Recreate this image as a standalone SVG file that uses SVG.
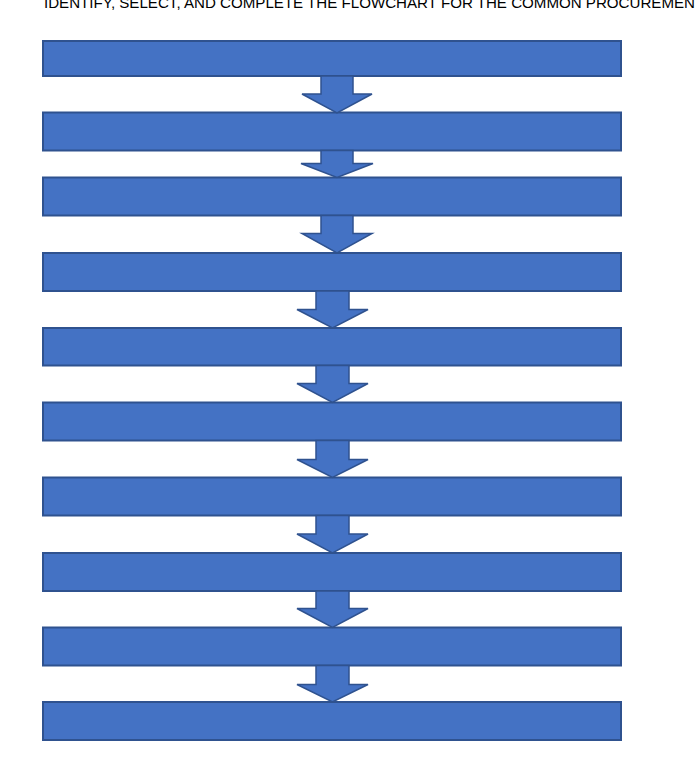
<svg xmlns="http://www.w3.org/2000/svg" width="696" height="775" viewBox="0 0 696 775">
<style>
.box{fill:#4472C4;stroke:#2F528F;stroke-width:2}
.arr{fill:#4472C4;stroke:#2F528F;stroke-width:1.5;stroke-linejoin:miter}
.title{font-family:"Liberation Sans",Arial,sans-serif;font-size:14.5px;fill:#000}
</style>
<rect width="696" height="775" fill="#fff"/>
<text class="title" x="44" y="8" textLength="651" lengthAdjust="spacingAndGlyphs">IDENTIFY, SELECT, AND COMPLETE THE FLOWCHART FOR THE COMMON PROCUREMEN</text>
<g id="step1"><rect class="box" x="43" y="41" width="578" height="35"/></g>
<g id="step2"><rect class="box" x="43" y="112.5" width="578" height="38"/></g>
<g id="step3"><rect class="box" x="43" y="177.5" width="578" height="38"/></g>
<g id="step4"><rect class="box" x="43" y="253" width="578" height="38"/></g>
<g id="step5"><rect class="box" x="43" y="328" width="578" height="37.5"/></g>
<g id="step6"><rect class="box" x="43" y="402.5" width="578" height="38"/></g>
<g id="step7"><rect class="box" x="43" y="477.5" width="578" height="38"/></g>
<g id="step8"><rect class="box" x="43" y="553" width="578" height="38"/></g>
<g id="step9"><rect class="box" x="43" y="627.5" width="578" height="38"/></g>
<g id="step10"><rect class="box" x="43" y="702" width="578" height="38"/></g>
<g id="connectors">
<polygon class="arr" points="321,76 353,76 353,94 372,94 337,113 302,94 321,94"/>
<polygon class="arr" points="321,150.5 353,150.5 353,163.5 373,163.5 337,177.5 301,163.5 321,163.5"/>
<polygon class="arr" points="321,215.5 353,215.5 353,233.5 372,233.5 337,253 302,233.5 321,233.5"/>
<polygon class="arr" points="316,291 349,291 349,309.5 368,309.5 332.5,328 297,309.5 316,309.5"/>
<polygon class="arr" points="316,365.5 349,365.5 349,383.5 368,383.5 332.5,402.5 297,383.5 316,383.5"/>
<polygon class="arr" points="316,440.5 349,440.5 349,459.5 368,459.5 332.5,477.5 297,459.5 316,459.5"/>
<polygon class="arr" points="316,515.5 349,515.5 349,534 368,534 332.5,553 297,534 316,534"/>
<polygon class="arr" points="316,591 349,591 349,608.5 368,608.5 332.5,627.5 297,608.5 316,608.5"/>
<polygon class="arr" points="316,665.5 349,665.5 349,684.5 368,684.5 332.5,702 297,684.5 316,684.5"/>
</g>
</svg>
